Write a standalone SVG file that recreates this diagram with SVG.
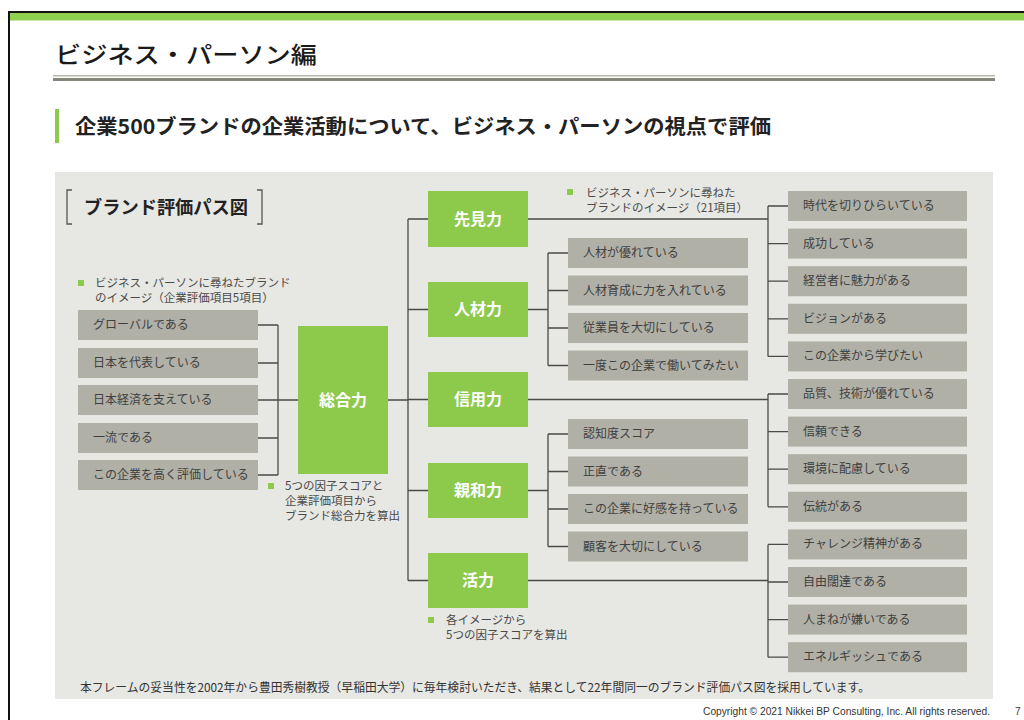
<svg xmlns="http://www.w3.org/2000/svg" width="1024" height="720" viewBox="0 0 1024 720">
<style>
.jp{font-family:"Noto Sans CJK JP","Noto Sans",sans-serif}
.item{fill:#b1b0a7}
.itxt{font-family:"Noto Sans CJK JP",sans-serif;font-size:12px;fill:#404040}
.fac{fill:#8dc94b}
.ftxt{font-family:"Noto Sans CJK JP",sans-serif;font-size:16px;font-weight:bold;fill:#ffffff;text-anchor:middle}
.note{font-family:"Noto Sans CJK JP",sans-serif;font-size:11.5px;fill:#4a4a4a}
.sq{fill:#8dc94b}
.ln{stroke:#4a4a4a;stroke-width:1.3;fill:none}
</style>
<rect x="0" y="0" width="1024" height="720" fill="#ffffff"/>
<rect x="8" y="11" width="1016" height="2" fill="#111"/>
<rect x="8" y="13" width="1016" height="7.5" fill="#8fd14f"/>
<rect x="8" y="11" width="2" height="709" fill="#111"/>
<text x="55" y="63" class="jp" font-size="23" font-weight="500" fill="#1a1a1a" textLength="262" lengthAdjust="spacingAndGlyphs">ビジネス・パーソン編</text>
<rect x="53" y="75" width="942" height="1.5" fill="#b8b8ae"/>
<rect x="53" y="78" width="942" height="3" fill="#85857a"/>
<rect x="55" y="109" width="4" height="34" fill="#8dc94b"/>
<text x="75" y="134" class="jp" font-size="20" font-weight="bold" fill="#222" textLength="696" lengthAdjust="spacingAndGlyphs">企業500ブランドの企業活動について、ビジネス・パーソンの視点で評価</text>
<rect x="55" y="172" width="938" height="527" fill="#e7e7e3"/>
<path d="M72 190 H67 V224 H72 M257 190 H262 V224 H257" stroke="#555" stroke-width="1.3" fill="none"/>
<text x="84" y="214" class="jp" font-size="18" font-weight="bold" fill="#222" textLength="164" lengthAdjust="spacingAndGlyphs">ブランド評価パス図</text>
<g id="note-left">
<rect x="78" y="280" width="6" height="6" class="sq"/>
<text x="95" y="287" class="note">ビジネス・パーソンに尋ねたブランド</text>
<text x="95" y="302" class="note">のイメージ（企業評価項目5項目）</text>
</g>
<g id="connectors">
<path class="ln" d="M258 325 H278 M258 363 H278 M258 400 H298 M258 438 H278 M258 475 H278 M278 325 V475"/>
<path class="ln" d="M388 400 H408 M408 219 V580.5 M408 219 H428 M408 309.5 H428 M408 399.5 H428 M408 490.5 H428 M408 580.5 H428"/>
<path class="ln" d="M528 309.5 H548 M548 253 V365.5 M548 253 H568 M548 290.5 H568 M548 328 H568 M548 365.5 H568"/>
<path class="ln" d="M528 490.5 H548 M548 434 V546.5 M548 434 H568 M548 471.5 H568 M548 509 H568 M548 546.5 H568"/>
<path class="ln" d="M528 219 H768 M768 206 V356.4 M768 206 H788 M768 243.6 H788 M768 281.2 H788 M768 318.8 H788 M768 356.4 H788"/>
<path class="ln" d="M528 399.5 H768 M768 394 V506.8 M768 394 H788 M768 431.6 H788 M768 469.2 H788 M768 506.8 H788"/>
<path class="ln" d="M528 580.5 H768 M768 544.4 V657.2 M768 544.4 H788 M768 582 H788 M768 619.6 H788 M768 657.2 H788"/>
</g>
<g id="l1"><rect x="78" y="310" width="180" height="30" class="item"/><text x="93" y="329" class="itxt">グローバルである</text></g>
<g id="l2"><rect x="78" y="348" width="180" height="30" class="item"/><text x="93" y="367" class="itxt">日本を代表している</text></g>
<g id="l3"><rect x="78" y="385" width="180" height="30" class="item"/><text x="93" y="404" class="itxt">日本経済を支えている</text></g>
<g id="l4"><rect x="78" y="423" width="180" height="30" class="item"/><text x="93" y="442" class="itxt">一流である</text></g>
<g id="l5"><rect x="78" y="460" width="180" height="30" class="item"/><text x="93" y="479" class="itxt">この企業を高く評価している</text></g>
<g id="sogo"><rect x="298" y="326" width="90" height="148" class="fac"/><text x="343" y="406" class="ftxt">総合力</text></g>
<g id="note-sogo">
<rect x="268" y="483" width="6" height="6" class="sq"/>
<text x="285" y="490" class="note">5つの因子スコアと</text>
<text x="285" y="505" class="note">企業評価項目から</text>
<text x="285" y="520" class="note">ブランド総合力を算出</text>
</g>
<g id="f1"><rect x="428" y="191" width="100" height="56" class="fac"/><text x="478" y="225" class="ftxt">先見力</text></g>
<g id="f2"><rect x="428" y="282" width="100" height="55" class="fac"/><text x="478" y="315" class="ftxt">人材力</text></g>
<g id="f3"><rect x="428" y="372" width="100" height="55" class="fac"/><text x="478" y="405" class="ftxt">信用力</text></g>
<g id="f4"><rect x="428" y="463" width="100" height="55" class="fac"/><text x="478" y="496" class="ftxt">親和力</text></g>
<g id="f5"><rect x="428" y="553" width="100" height="55" class="fac"/><text x="478" y="586" class="ftxt">活力</text></g>
<g id="note-top">
<rect x="567" y="189" width="6" height="6" class="sq"/>
<text x="586" y="197" class="note">ビジネス・パーソンに尋ねた</text>
<text x="586" y="212" class="note">ブランドのイメージ（21項目）</text>
</g>
<g id="note-bottom">
<rect x="428" y="617" width="6" height="6" class="sq"/>
<text x="446" y="624" class="note">各イメージから</text>
<text x="446" y="639" class="note">5つの因子スコアを算出</text>
</g>
<g id="m1"><rect x="568" y="238" width="180" height="30" class="item"/><text x="583" y="257" class="itxt">人材が優れている</text></g>
<g id="m2"><rect x="568" y="275.5" width="180" height="30" class="item"/><text x="583" y="294.5" class="itxt">人材育成に力を入れている</text></g>
<g id="m3"><rect x="568" y="313" width="180" height="30" class="item"/><text x="583" y="332" class="itxt">従業員を大切にしている</text></g>
<g id="m4"><rect x="568" y="350.5" width="180" height="30" class="item"/><text x="583" y="369.5" class="itxt">一度この企業で働いてみたい</text></g>
<g id="m5"><rect x="568" y="419" width="180" height="30" class="item"/><text x="583" y="438" class="itxt">認知度スコア</text></g>
<g id="m6"><rect x="568" y="456.5" width="180" height="30" class="item"/><text x="583" y="475.5" class="itxt">正直である</text></g>
<g id="m7"><rect x="568" y="494" width="180" height="30" class="item"/><text x="583" y="513" class="itxt">この企業に好感を持っている</text></g>
<g id="m8"><rect x="568" y="531.5" width="180" height="30" class="item"/><text x="583" y="550.5" class="itxt">顧客を大切にしている</text></g>
<g id="r1"><rect x="788" y="191" width="179" height="30" class="item"/><text x="803" y="210" class="itxt">時代を切りひらいている</text></g>
<g id="r2"><rect x="788" y="228.6" width="179" height="30" class="item"/><text x="803" y="247.6" class="itxt">成功している</text></g>
<g id="r3"><rect x="788" y="266.2" width="179" height="30" class="item"/><text x="803" y="285.2" class="itxt">経営者に魅力がある</text></g>
<g id="r4"><rect x="788" y="303.8" width="179" height="30" class="item"/><text x="803" y="322.8" class="itxt">ビジョンがある</text></g>
<g id="r5"><rect x="788" y="341.4" width="179" height="30" class="item"/><text x="803" y="360.4" class="itxt">この企業から学びたい</text></g>
<g id="r6"><rect x="788" y="379" width="179" height="30" class="item"/><text x="803" y="398" class="itxt">品質、技術が優れている</text></g>
<g id="r7"><rect x="788" y="416.6" width="179" height="30" class="item"/><text x="803" y="435.6" class="itxt">信頼できる</text></g>
<g id="r8"><rect x="788" y="454.2" width="179" height="30" class="item"/><text x="803" y="473.2" class="itxt">環境に配慮している</text></g>
<g id="r9"><rect x="788" y="491.8" width="179" height="30" class="item"/><text x="803" y="510.8" class="itxt">伝統がある</text></g>
<g id="r10"><rect x="788" y="529.4" width="179" height="30" class="item"/><text x="803" y="548.4" class="itxt">チャレンジ精神がある</text></g>
<g id="r11"><rect x="788" y="567" width="179" height="30" class="item"/><text x="803" y="586" class="itxt">自由闊達である</text></g>
<g id="r12"><rect x="788" y="604.6" width="179" height="30" class="item"/><text x="803" y="623.6" class="itxt">人まねが嫌いである</text></g>
<g id="r13"><rect x="788" y="642.2" width="179" height="30" class="item"/><text x="803" y="661.2" class="itxt">エネルギッシュである</text></g>
<text x="80" y="692" class="jp" font-size="12" fill="#333" textLength="790" lengthAdjust="spacingAndGlyphs">本フレームの妥当性を2002年から豊田秀樹教授（早稲田大学）に毎年検討いただき、結果として22年間同一のブランド評価パス図を採用しています。</text>
<text x="703" y="715" font-family="Liberation Sans, sans-serif" font-size="10" fill="#333" textLength="287" lengthAdjust="spacingAndGlyphs">Copyright © 2021 Nikkei BP Consulting, Inc. All rights reserved.</text>
<text x="1015" y="715" font-family="Liberation Sans, sans-serif" font-size="10" fill="#333">7</text>
</svg>
